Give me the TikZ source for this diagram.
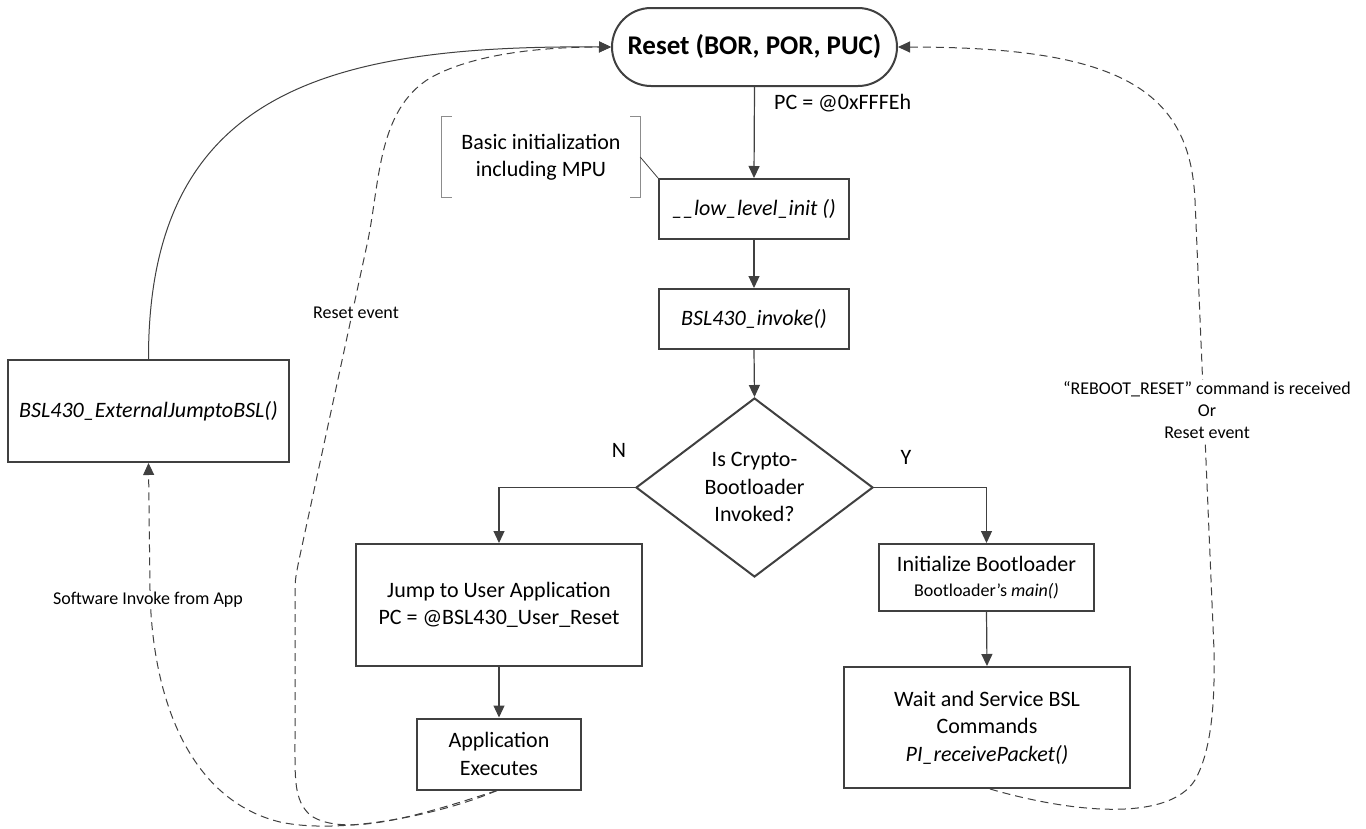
\documentclass[tikz,border=0pt]{standalone}
\usepackage{fontspec}
\setmainfont{Carlito}
\usetikzlibrary{shapes.geometric,arrows.meta,calc}
\definecolor{lineg}{HTML}{404040}
\definecolor{brk}{HTML}{8C8C8C}
\newcommand\fsMain{\fontsize{22pt}{27.5pt}\selectfont}
\newcommand\fsBig{\fontsize{27pt}{32pt}\selectfont}
\newcommand\fsSmall{\fontsize{18pt}{22pt}\selectfont}
\begin{document}
\begin{tikzpicture}[x=1pt,y=-1pt,
  box/.style={draw=lineg, line width=2pt, rectangle, align=center, font=\fsMain, inner sep=0pt},
  conn/.style={draw=lineg, line width=1.2pt, -{Triangle[length=12pt,width=11pt]}},
  dconn/.style={conn, line width=1pt, dash pattern=on 8pt off 5pt},
  lbl/.style={font=\fsMain, inner sep=1pt},
  slbl/.style={font=\fsSmall, fill=white, inner sep=1pt, align=center}
]
\useasboundingbox[fill=white] (0,0) rectangle (1366,828);

% nodes
\node[box, rounded corners=39pt, minimum width=285pt, minimum height=78pt, font=\fsBig\bfseries] (reset) at (754.5,47) {Reset (BOR, POR, PUC)};
\node[lbl, anchor=west] (pc) at (773,103) {PC = @0xFFFEh};
\node[box, minimum width=190pt, minimum height=60pt] (lli) at (754,209) {\itshape \_\_low\_level\_init ()};
\node[box, minimum width=190pt, minimum height=60pt] (inv) at (754,319) {\itshape BSL430\_invoke()};
\node[draw=lineg, line width=2pt, diamond, minimum width=237pt, minimum height=179pt, inner sep=0pt] (dia) at (754.5,487.5) {};
\node[align=center, font=\fsMain] (diat) at (754.5,487) {Is Crypto-\\Bootloader\\Invoked?};
\node[lbl] (nlbl) at (619,450) {N};
\node[lbl] (ylbl) at (906,457) {Y};
\node[box, minimum width=286pt, minimum height=122pt] (jump) at (499,605) {Jump to User Application\\PC = @BSL430\_User\_Reset};
\node[box, minimum width=164pt, minimum height=71pt] (app) at (499,754) {Application\\Executes};
\node[box, minimum width=215pt, minimum height=67pt] (init) at (986.5,577.5) {Initialize Bootloader\\[-2pt]{\fsSmall Bootloader’s \textit{main()}}};
\node[box, minimum width=286pt, minimum height=121pt] (wait) at (987,727.5) {Wait and Service BSL\\Commands\\\textit{PI\_receivePacket()}};
\node[box, minimum width=281pt, minimum height=102pt] (ext) at (148.5,411) {\itshape BSL430\_ExternalJumptoBSL()};
\node[align=center, font=\fsMain, minimum width=198pt, minimum height=80pt, inner sep=0pt] (ann) at (541,157) {Basic initialization\\including MPU};

% annotation bracket
\draw[brk, line width=1.2pt] ([xshift=10pt]ann.north west) -- (ann.north west) -- (ann.south west) -- ([xshift=10pt]ann.south west);
\draw[brk, line width=1.2pt] ([xshift=-10pt]ann.north east) -- (ann.north east) -- (ann.south east) -- ([xshift=-10pt]ann.south east);
\draw[lineg, line width=0.8pt] (ann.east) -- (lli.north west);

% main flow
\draw[conn] (reset.south) -- (lli.north);
\draw[conn] (lli.south) -- (inv.north);
\draw[conn] (inv.south) -- (dia.north);
\draw[conn] (dia.west) -| (jump.north);
\draw[conn] (dia.east) -| (init.north);
\draw[conn] (jump.south) -- (app.north);
\draw[conn] (init.south) -- (wait.north);

% solid return from external jump
\draw[conn, line width=1pt] (ext.north) .. controls (148,90) and (330,45) .. (reset.west);

% dashed: software invoke from app
\coordinate (s1) at (150,590);
\draw[dconn] ([xshift=-2pt]app.south) .. controls (440,815) and (340,835) .. (280,822) .. controls (190,800) and (152,700) .. (s1) -- (ext.south);

% dashed: reset event (left)
\coordinate (r1) at (295,600);
\coordinate (r2) at (368,240);
\draw[dconn] ([xshift=-2pt]app.south) .. controls (430,812) and (345,840) .. (310,815) .. controls (294,800) and (295,780) .. (295,740) -- (r1) .. controls (295,580) .. (299,560) -- (r2) .. controls (380,180) and (378,110) .. (430,78) .. controls (480,50) and (560,47) .. (reset.west);

% dashed: reboot reset (right)
\coordinate (q1) at (1214,650);
\coordinate (q2) at (1195,200);
\draw[dconn] ([xshift=3pt]wait.south) .. controls (1080,815) and (1170,820) .. (1195,780) .. controls (1212,750) and (1215,700) .. (q1) -- (q2) .. controls (1190,90) and (1120,47) .. (reset.east);

% dashed labels
\node[slbl] (l1) at (148,600) {Software Invoke from App};
\node[slbl] (l2) at (356,313) {Reset event};
\node[slbl] (l3) at (1207,410) {“REBOOT\_RESET” command is received\\Or\\Reset event};
\end{tikzpicture}
\end{document}
